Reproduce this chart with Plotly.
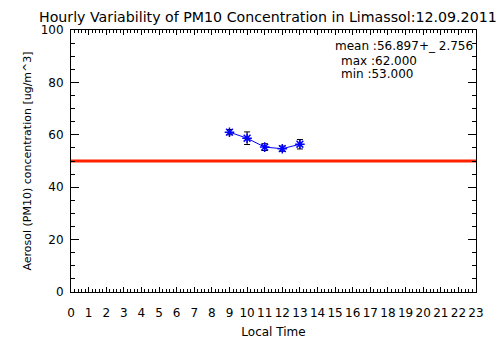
import plotly.graph_objects as go

hours = [9, 10, 11, 12, 13]
pm10 = [61.0, 58.7, 55.3, 54.7, 56.4]
pm10_err = [1.0, 2.4, 1.3, 1.0, 1.8]
limit_value = 50
x_ticks = list(range(0, 24))
y_ticks = [0, 20, 40, 60, 80, 100]
title = "Hourly Variability of PM10 Concentration in Limassol:12.09.2011"
stats_lines = ["mean :56.897+_ 2.756", "max :62.000", "min :53.000"]

FONT = "DejaVu Sans"
W, H = 504, 361
L, R, T, B = 71, 28, 30, 69

fig = go.Figure()
fig.add_trace(go.Scatter(
    x=[-1, 24], y=[limit_value, limit_value], mode="lines",
    line=dict(color="#ff2000", width=3), hoverinfo="skip", showlegend=False))
fig.add_trace(go.Scatter(
    x=hours, y=pm10, mode="lines+markers",
    line=dict(color="#0000ff", width=1),
    marker=dict(symbol="asterisk-open", size=8, color="#0000ff",
                line=dict(color="#0000ff", width=1.5)),
    error_y=dict(type="data", array=pm10_err, visible=True,
                 color="black", thickness=1, width=3),
    showlegend=False))

axis_common = dict(showgrid=False, zeroline=False, showline=True,
                   linecolor="black", linewidth=1, mirror="allticks",
                   ticks="inside", tickcolor="black", automargin=False,
                   tickfont=dict(family=FONT, size=12, color="black"))

fig.update_layout(
    width=W, height=H,
    margin=dict(l=L, r=R, t=T, b=B, pad=0, autoexpand=False),
    paper_bgcolor="white", plot_bgcolor="white",
    xaxis=dict(range=[0, 23], tickvals=x_ticks, ticktext=[str(v) for v in x_ticks],
               ticklen=5, ticklabelstandoff=10,
               minor=dict(dtick=0.2, tick0=0, ticks="inside", ticklen=3, tickcolor="black"),
               title=dict(text="Local Time", font=dict(family=FONT, size=12, color="black"),
                          standoff=8),
               **axis_common),
    yaxis=dict(range=[0, 100], tickvals=y_ticks, ticktext=[str(v) for v in y_ticks],
               ticklen=8, ticklabelstandoff=4,
               minor=dict(dtick=5, tick0=0, ticks="inside", ticklen=4, tickcolor="black"),
               title=dict(text="Aerosol (PM10) concentration [ug/m^3]",
                          font=dict(family=FONT, size=11, color="black"), standoff=6),
               **axis_common),
    font=dict(family=FONT, color="black"),
)

fig.add_annotation(text=title, xref="paper", yref="paper",
                   x=(37 - L) / (W - L - R), y=1 + (T - 17) / (H - T - B),
                   xanchor="left", yanchor="middle", showarrow=False,
                   font=dict(family=FONT, size=14.2, color="black"))

stat_pos = [(333, 46), (339, 61), (339, 74)]
for txt, (px, py) in zip(stats_lines, stat_pos):
    fig.add_annotation(text=txt, xref="paper", yref="paper",
                       x=(px - L) / (W - L - R), y=1 - (py - T) / (H - T - B),
                       xanchor="left", yanchor="middle", showarrow=False,
                       font=dict(family=FONT, size=12, color="black"))

fig.write_html("out.html",
               config={"displayModeBar": False, "staticPlot": True},
               post_script="document.body.style.margin='0';document.body.style.overflow='hidden';")
